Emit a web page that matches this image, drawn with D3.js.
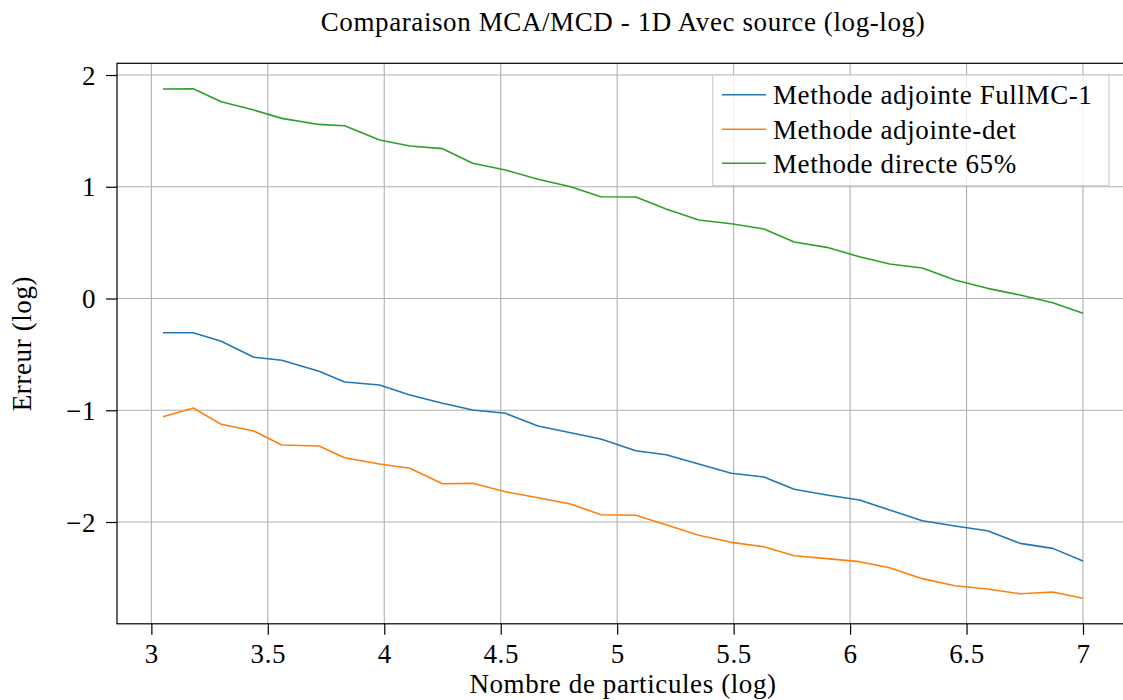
<!DOCTYPE html>
<html>
<head>
<meta charset="utf-8">
<script src="https://cdn.jsdelivr.net/npm/d3@7"></script>
<style>
  html, body { margin: 0; padding: 0; background: #fff; }
  svg { display: block; }
  text { font-family: "Liberation Serif", "Times New Roman", serif; fill: #000; }
</style>
</head>
<body>
<svg id="chart" width="1123" height="700"></svg>
<script>
// ---- data ----
const titleText = "Comparaison MCA/MCD - 1D Avec source (log-log)";
const xLabel = "Nombre de particules (log)";
const yLabel = "Erreur (log)";

const xValues = [3.05, 3.18, 3.30, 3.44, 3.56, 3.72, 3.83, 3.98, 4.11, 4.25,
                 4.38, 4.52, 4.66, 4.80, 4.93, 5.08, 5.21, 5.35, 5.49, 5.63,
                 5.76, 5.90, 6.04, 6.17, 6.31, 6.45, 6.59, 6.73, 6.87, 7.00];

const adjointeFullMC = [-0.306, -0.306, -0.383, -0.526, -0.553, -0.651, -0.747, -0.774, -0.864, -0.938,
                        -0.998, -1.027, -1.141, -1.201, -1.257, -1.362, -1.398, -1.481, -1.564, -1.597,
                        -1.707, -1.758, -1.803, -1.893, -1.989, -2.036, -2.078, -2.191, -2.236, -2.349];

const adjointeDet = [-1.058, -0.980, -1.126, -1.186, -1.311, -1.320, -1.425, -1.481, -1.519, -1.657,
                     -1.654, -1.729, -1.783, -1.839, -1.935, -1.940, -2.024, -2.119, -2.182, -2.221,
                     -2.302, -2.328, -2.355, -2.409, -2.507, -2.570, -2.600, -2.642, -2.626, -2.683];

const directe65 = [1.875, 1.877, 1.761, 1.687, 1.612, 1.558, 1.546, 1.418, 1.365, 1.341,
                   1.210, 1.150, 1.067, 1.000, 0.911, 0.908, 0.801, 0.702, 0.669, 0.622,
                   0.506, 0.458, 0.374, 0.309, 0.273, 0.166, 0.091, 0.031, -0.038, -0.132];

const seriesNames = ["Methode adjointe FullMC-1", "Methode adjointe-det", "Methode directe 65%"];
const seriesColors = ["#1f77b4", "#ff7f0e", "#2ca02c"];
const seriesValues = [adjointeFullMC, adjointeDet, directe65];

const xTicks = [3, 3.5, 4, 4.5, 5, 5.5, 6, 6.5, 7];
const xTickLabels = ["3", "3.5", "4", "4.5", "5", "5.5", "6", "6.5", "7"];
const yTicks = [-2, -1, 0, 1, 2];
const yTickLabels = ["\u22122", "\u22121", "0", "1", "2"];

// ---- layout ----
const svg = d3.select("#chart");
const plot = { left: 117, right: 1129, top: 63.3, bottom: 623.8 };
const FS = 27, LS = 0.6;

function padded(vals) {
  const [a, b] = d3.extent(vals);
  const m = (b - a) * 0.05;
  return [a - m, b + m];
}
const allY = [].concat(...seriesValues);
const x = d3.scaleLinear().domain(padded(xValues)).range([plot.left, plot.right]);
const y = d3.scaleLinear().domain(padded(allY)).range([plot.bottom, plot.top]);

// grid
const grid = svg.append("g");
grid.selectAll("line.gx").data(xTicks).join("line")
  .attr("x1", d => x(d)).attr("x2", d => x(d))
  .attr("y1", plot.top).attr("y2", plot.bottom)
  .attr("stroke", "#b0b0b0").attr("stroke-width", 1.1);
grid.selectAll("line.gy").data(yTicks).join("line")
  .attr("y1", d => y(d)).attr("y2", d => y(d))
  .attr("x1", plot.left).attr("x2", plot.right)
  .attr("stroke", "#b0b0b0").attr("stroke-width", 1.1);

// lines
const lineGen = d3.line().x((d, i) => x(xValues[i])).y(d => y(d));
svg.append("g").selectAll("path").data(seriesValues).join("path")
  .attr("d", d => lineGen(d))
  .attr("fill", "none")
  .attr("stroke", (d, i) => seriesColors[i])
  .attr("stroke-width", 1.6)
  .attr("stroke-linejoin", "round");

// frame
svg.append("rect")
  .attr("x", plot.left).attr("y", plot.top)
  .attr("width", plot.right - plot.left).attr("height", plot.bottom - plot.top)
  .attr("fill", "none").attr("stroke", "#000").attr("stroke-width", 1.2);

// axes
const xAxis = d3.axisBottom(x).tickValues(xTicks)
  .tickFormat((d, i) => xTickLabels[i]).tickSize(11).tickPadding(9);
const gx = svg.append("g").attr("transform", `translate(0,${plot.bottom})`).call(xAxis);
gx.select(".domain").remove();
gx.selectAll(".tick line").attr("stroke", "#000").attr("stroke-width", 1.2);
gx.selectAll(".tick text")
  .attr("font-family", "Liberation Serif").attr("font-size", FS)
  .attr("letter-spacing", LS).attr("fill", "#000")
  .attr("dy", null).attr("y", 39);

const yAxis = d3.axisLeft(y).tickValues(yTicks)
  .tickFormat((d, i) => yTickLabels[i]).tickSize(11).tickPadding(9);
const gy = svg.append("g").attr("transform", `translate(${plot.left},0)`).call(yAxis);
gy.select(".domain").remove();
gy.selectAll(".tick line").attr("stroke", "#000").attr("stroke-width", 1.2);
gy.selectAll(".tick text")
  .attr("font-family", "Liberation Serif").attr("font-size", FS)
  .attr("letter-spacing", LS).attr("fill", "#000")
  .attr("dy", "0.34em").attr("x", -21);

// titles
const cx = (plot.left + plot.right) / 2;
svg.append("text").attr("x", cx).attr("y", 31)
  .attr("text-anchor", "middle").attr("font-size", FS).attr("letter-spacing", LS)
  .text(titleText);
svg.append("text").attr("x", cx).attr("y", 693)
  .attr("text-anchor", "middle").attr("font-size", FS).attr("letter-spacing", LS)
  .text(xLabel);
svg.append("text")
  .attr("transform", `translate(30.5,${(plot.top + plot.bottom) / 2}) rotate(-90)`)
  .attr("text-anchor", "middle").attr("font-size", FS).attr("letter-spacing", LS)
  .text(yLabel);

// legend
const leg = { x: 712.7, y: 75, w: 396.3, h: 110.7 };
const legG = svg.append("g");
legG.append("rect")
  .attr("x", leg.x).attr("y", leg.y).attr("width", leg.w).attr("height", leg.h)
  .attr("fill", "#fff").attr("fill-opacity", 0.8)
  .attr("stroke", "#cccccc").attr("stroke-width", 1.1);
const rowY = [94.7, 129.3, 163.3];
const items = legG.selectAll("g.item").data(seriesNames).join("g")
  .attr("transform", (d, i) => `translate(0,${rowY[i]})`);
items.append("line")
  .attr("x1", 722).attr("x2", 766).attr("y1", 0).attr("y2", 0)
  .attr("stroke", (d, i) => seriesColors[i]).attr("stroke-width", 1.6);
items.append("text")
  .attr("x", 773).attr("y", 9.5)
  .attr("font-size", FS).attr("letter-spacing", LS)
  .text(d => d);
</script>
</body>
</html>
